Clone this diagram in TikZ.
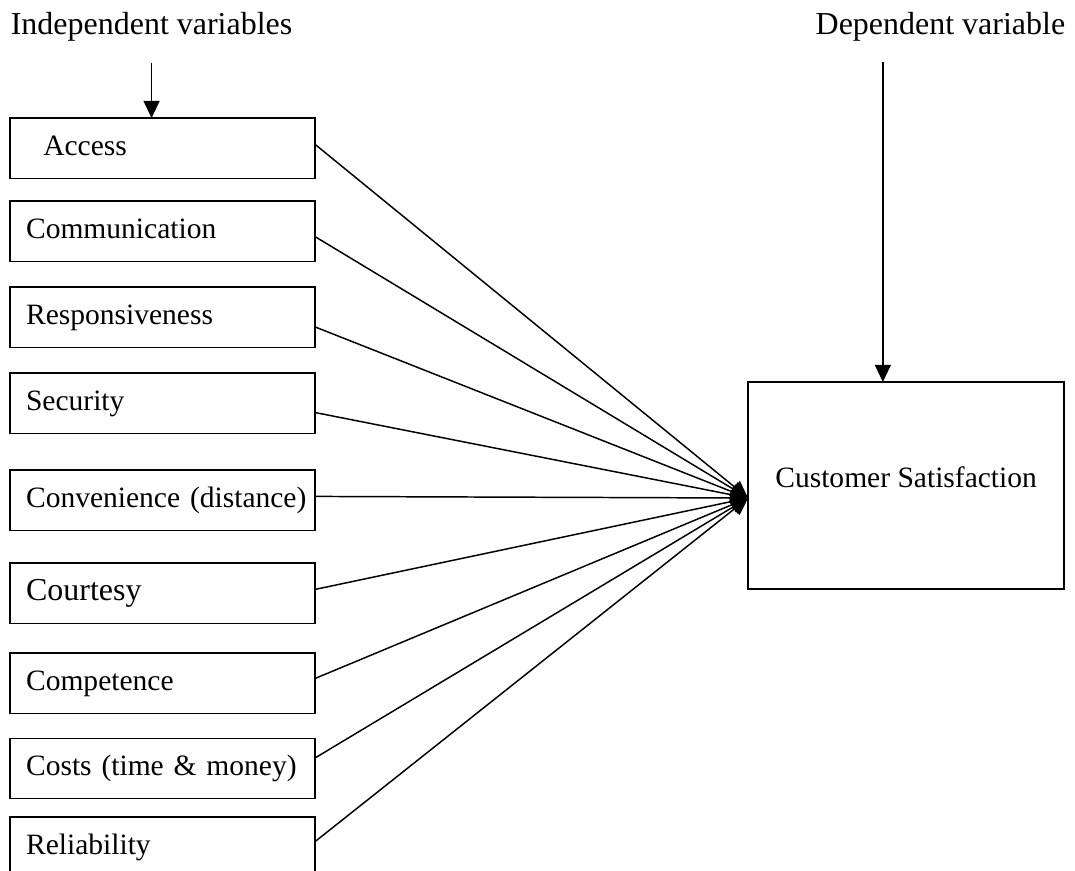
\documentclass[tikz,border=0pt]{standalone}
\usepackage{fontspec}
\setmainfont{Liberation Serif}
\usetikzlibrary{
  arrows.meta,
  positioning,
}

\begin{document}
\begin{tikzpicture}[
    font=\fontsize{12}{14}\selectfont,
    line width=0.6pt,
    var/.style={draw, outer sep=0pt, inner xsep=6.5pt, text width=111pt,
      align=left, minimum height=24.6pt, text height=8pt, text depth=2.5pt},
    head/.style={inner sep=0pt, font=\fontsize{13}{15}\selectfont},
    arr/.style={-{Triangle[length=7pt,width=6.5pt]}},
  ]
  \useasboundingbox (0,0) rectangle (437pt,-353.7pt);
  \node [head, anchor=base west] (iv) at (4.1pt,-14.2pt) {Independent variables};
  \node [head, anchor=base east] (dv) at (433.3pt,-14.2pt) {Dependent variable};
  \coordinate (dvtop) at (358.9pt,-25.2pt);

  \node [var, anchor=north west] (acc) at (4.1pt,-48pt) {\hspace*{7pt}Access};
  \node [var, below=9.1pt of acc] (com) {Communication};
  \node [var, below=10.4pt of com] (res) {Responsiveness};
  \node [var, below=10.4pt of res] (sec) {Security};
  \node [var, below=14.8pt of sec] (con) {\mbox{Convenience (distance)}};
  \node [var, below=13.2pt of con, font=\fontsize{13}{15}\selectfont] (cou) {Courtesy};
  \node [var, below=12.0pt of cou] (cmp) {Competence};
  \node [var, below=10.0pt of cmp] (cst) {Costs (time \& money)};
  \node [var, below=7.5pt of cst] (rel) {Reliability};

  \node [draw, outer sep=0pt, minimum width=128.5pt, minimum height=84.1pt,
    text height=8pt, text depth=6pt, anchor=north west] (cs) at (304.1pt,-155.3pt)
    {Customer Satisfaction};
  \coordinate (tip) at ([yshift=-5.1pt]cs.west);

  \draw [arr] ([yshift=-8.2pt]iv.south) -- (iv.south |- acc.north);
  \draw [arr] (dvtop) -- (dvtop |- cs.north);
  \foreach \n/\dy in {acc/1.6pt, com/-2.2pt, res/-3.9pt, sec/-3.7pt, con/1.6pt,
      cou/1.6pt, cmp/2pt, cst/4.3pt, rel/2.4pt}
    \draw [arr] ([yshift=\dy]\n.east) -- (tip);
\end{tikzpicture}
\end{document}
